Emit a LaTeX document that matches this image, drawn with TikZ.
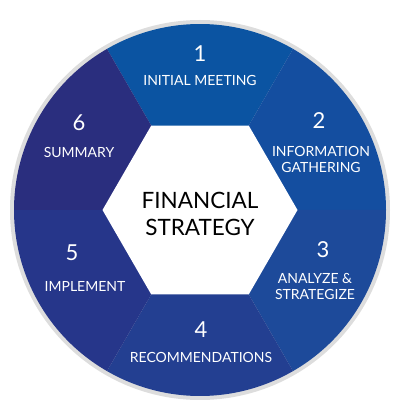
\documentclass[tikz,border=0pt]{standalone}
\usepackage{fontspec}
\setmainfont{Lato}
\definecolor{cA}{HTML}{0B54A2}
\definecolor{cB}{HTML}{144EA0}
\definecolor{cC}{HTML}{1D4A9A}
\definecolor{cD}{HTML}{233F91}
\definecolor{cE}{HTML}{26368A}
\definecolor{cF}{HTML}{2A2E7E}
\definecolor{ring}{HTML}{DDDDDD}
\begin{document}
\begin{tikzpicture}[x=1pt,y=1pt,
  num/.style={text=white,font=\fontsize{22}{22}\selectfont\addfontfeature{Weight=300}},
  lab/.style={text=white,font=\fontsize{14}{16}\selectfont,align=center},
  ctr/.style={text=black,font=\fontsize{22.5}{27}\selectfont,align=center}]
\useasboundingbox (0,0) rectangle (400,410);
\coordinate (c) at (200,200);
\fill[ring] (c) circle (190);
\foreach \a/\col in {60/cA,0/cB,-60/cC,-120/cD,-180/cE,-240/cF}{
  \fill[\col] (c) -- ++(\a:186) arc[start angle=\a,end angle=\a+60,radius=186] -- cycle;
}
\fill[white] (c) ++(0:97.5) -- ++(120:97.5) -- ++(180:97.5) -- ++(240:97.5) -- ++(300:97.5) -- ++(0:97.5) -- cycle;
\node[ctr] (center) at (200,196) {FINANCIAL\\STRATEGY};
\node[num] (n1) at (200,356) {1};
\node[lab] (l1) at (200,330) {INITIAL MEETING};
\node[num] (n2) at (319,289) {2};
\node[lab] (l2) at (321,251) {INFORMATION\\GATHERING};
\node[num] (n3) at (323,160) {3};
\node[lab] (l3) at (315,124) {ANALYZE \&\\STRATEGIZE};
\node[num] (n4) at (201,80) {4};
\node[lab] (l4) at (201,53) {RECOMMENDATIONS};
\node[num] (n5) at (72,157) {5};
\node[lab] (l5) at (85,124) {IMPLEMENT};
\node[num] (n6) at (79,287) {6};
\node[lab] (l6) at (79,258) {SUMMARY};
\end{tikzpicture}
\end{document}
